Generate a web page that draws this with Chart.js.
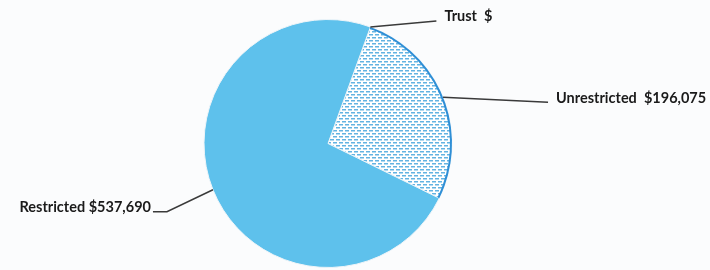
<!DOCTYPE html>
<html>
<head>
<meta charset="utf-8">
<script src="https://cdn.jsdelivr.net/npm/chart.js@4.4.1/dist/chart.umd.min.js"></script>
<style>
  html, body { margin: 0; padding: 0; background: #fbfcfd; }
  #wrap { width: 710px; height: 270px; }
</style>
</head>
<body>
<div id="wrap"><canvas id="myChart" width="710" height="270"></canvas></div>
<script>
// chart data
const categories = ["Trust", "Unrestricted", "Restricted"];
const amounts = [0, 196075, 537690];
const labelTexts = ["Trust  $", "Unrestricted  $196,075", "Restricted $537,690"];

// dotted fill used for the Unrestricted slice
function makePattern(ctx) {
    const p = document.createElement("canvas");
    p.width = 6;
    p.height = 6;
    const pc = p.getContext("2d");
    pc.fillStyle = "#ffffff";
    pc.fillRect(0, 0, 6, 6);
    pc.fillStyle = "#62b3e2";
    pc.fillRect(0, 1, 4, 1.5);
    pc.fillRect(3, 4, 4, 1.5);
    pc.fillRect(-3, 4, 4, 1.5);
    return ctx.createPattern(p, "repeat");
}

// leader lines + labels, anchored on the arc elements
const leaderLabels = {
    id: "leaderLabels",
    afterDatasetsDraw(chart, args, opts) {
        const ctx = chart.ctx;
        const arcs = chart.getDatasetMeta(0).data;
        ctx.save();

        // blue outline on the outer edge of the Unrestricted slice
        const u = arcs[1];
        ctx.strokeStyle = "#2f8fd6";
        ctx.lineWidth = 2;
        ctx.beginPath();
        ctx.arc(u.x, u.y, u.outerRadius - 1, u.startAngle, u.endAngle);
        ctx.stroke();

        ctx.font = "bold 14.5px Lato, 'Open Sans', sans-serif";
        ctx.fillStyle = "#1a1a1a";
        ctx.textBaseline = "middle";
        opts.items.forEach((it, i) => {
            const a = arcs[i];
            const ang = a.startAngle + (a.endAngle - a.startAngle) * it.frac;
            const sx = a.x + Math.cos(ang) * a.outerRadius;
            const sy = a.y + Math.sin(ang) * a.outerRadius;
            ctx.strokeStyle = "#3a3a3a";
            ctx.lineWidth = 1.5;
            ctx.beginPath();
            ctx.moveTo(sx, sy);
            it.path.forEach(pt => ctx.lineTo(sx + pt[0], sy + pt[1]));
            ctx.stroke();
            ctx.textAlign = it.align;
            ctx.fillText(labelTexts[i], sx + it.text[0], sy + it.text[1]);
        });
        ctx.restore();
    }
};

const canvas = document.getElementById("myChart");
const ctx = canvas.getContext("2d");

new Chart(ctx, {
    type: "pie",
    data: {
        labels: categories,
        datasets: [{
            data: amounts,
            backgroundColor: ["#5ec1ec", makePattern(ctx), "#5ec1ec"],
            borderColor: "#eef4f8",
            borderWidth: 1
        }]
    },
    options: {
        responsive: false,
        animation: false,
        rotation: 20,
        layout: { padding: { left: 0, right: 54, top: 19, bottom: 2 } },
        plugins: {
            legend: { display: false },
            tooltip: { enabled: false },
            leaderLabels: {
                items: [
                    { frac: 0, path: [[66, -6]], text: [74, -11], align: "left" },
                    { frac: 0.5, path: [[105, 5]], text: [113, 1], align: "left" },
                    { frac: 0.5, path: [[-46, 22], [-60, 22]], text: [-62, 18], align: "right" }
                ]
            }
        }
    },
    plugins: [leaderLabels]
});
</script>
</body>
</html>
